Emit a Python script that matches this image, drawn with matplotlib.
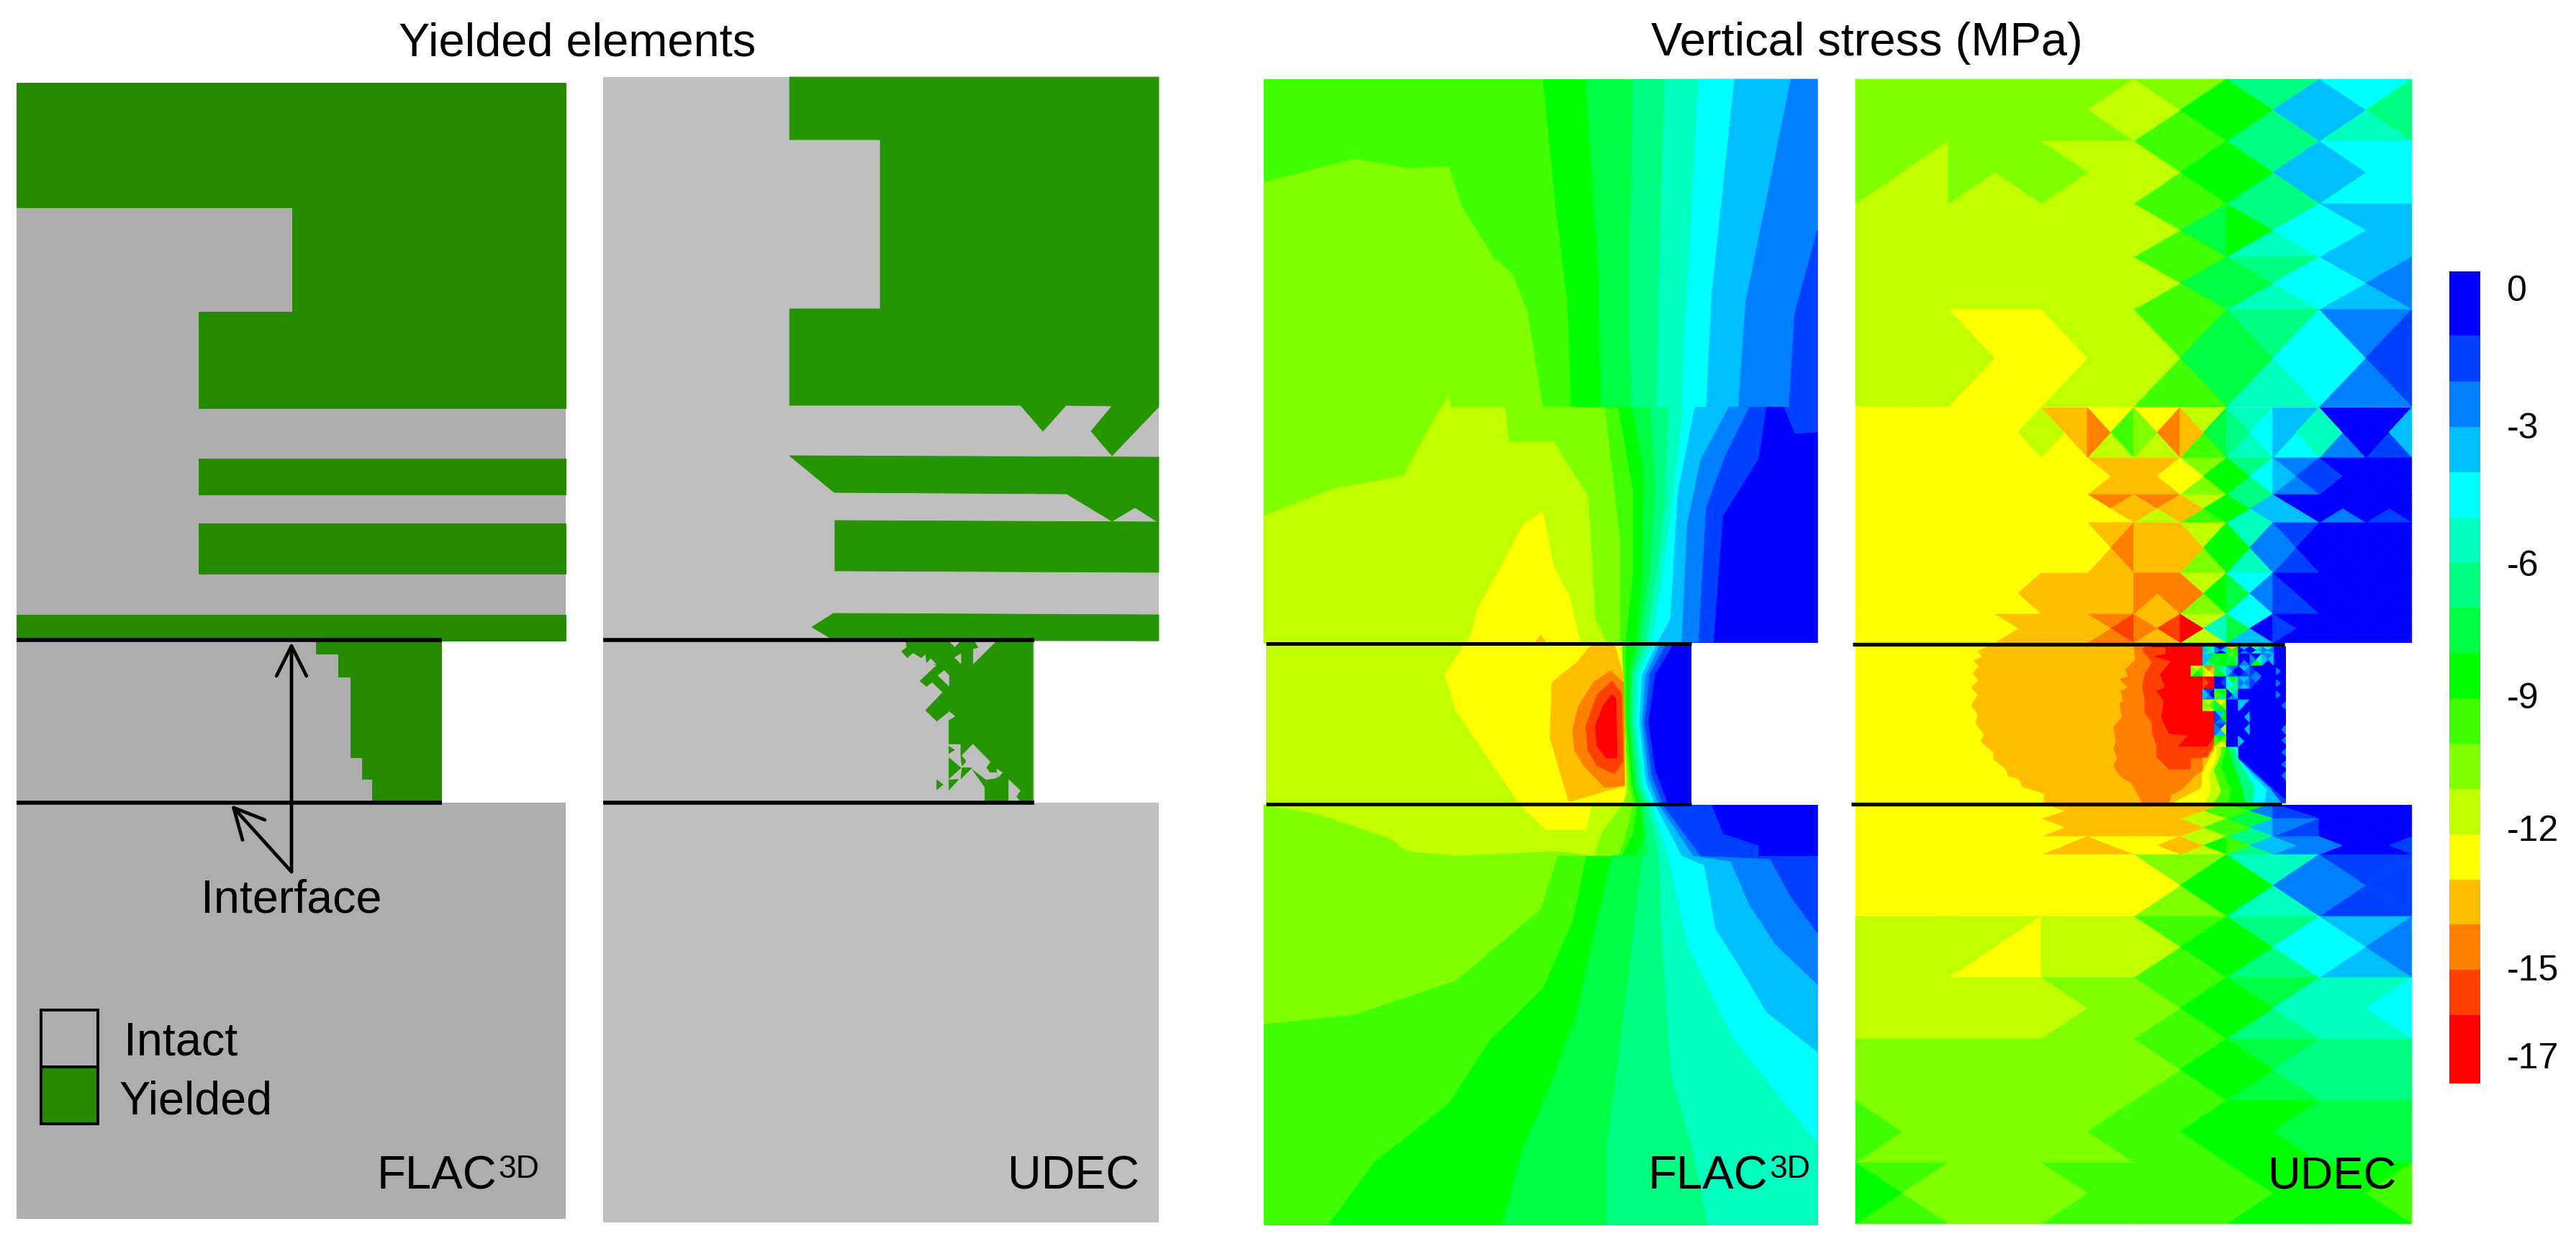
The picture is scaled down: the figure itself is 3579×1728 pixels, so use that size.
# yielded elements and vertical stress, FLAC3D against UDEC
import numpy as np
from matplotlib import pyplot as plt
from matplotlib.colors import ListedColormap
from matplotlib.patches import Rectangle

plt.rcParams['font.family'] = ['Liberation Sans', 'DejaVu Sans']

W, H = 3579, 1728

# stress levels, a = 0 MPa ... q = -17 MPa
LEVEL_NAMES = "abcdefghijklmnopq"
LEVEL_COLORS = ['#0000FF', '#0040FF', '#0080FF', '#00BFFF', '#00FFFF', '#00FFBF',
                '#00FF80', '#00FF40', '#00FF00', '#40FF00', '#80FF00', '#BFFF00',
                '#FFFF00', '#FFBF00', '#FF8000', '#FF4000', '#FF0000']
COLORBAR_EDGES = [377, 466, 530, 593, 656, 719, 782, 844, 907, 970, 1033, 1096,
                  1159, 1222, 1284, 1347, 1410, 1505]
COLORBAR_LABELS = ["0", "-3", "-6", "-9", "-12", "-15", "-17"]
COLORBAR_LABEL_Y = [405, 596, 787, 971, 1155, 1349, 1471]

GREY_A, GREEN_A = '#ADADAD', '#258A00'
GREY_B, GREEN_B = '#BFBFBF', '#269600'

# yielded regions, left panel
FLAC_YIELD = [
    [(23, 115), (786, 115), (786, 567), (276, 567), (276, 433), (406, 433), (406, 288), (23, 288)],
    [(276, 637), (786, 637), (786, 687), (276, 687)],
    [(276, 727), (786, 727), (786, 797), (276, 797)],
    [(23, 854), (786, 854), (786, 890), (23, 890)],
    [(439, 890), (614, 890), (614, 1115), (517, 1115), (517, 1082), (503, 1082), (503, 1052),
     (487, 1052), (487, 940), (470, 940), (470, 908), (439, 908)],
]

# yielded regions, second panel
UDEC_YIELD = [
    [(1097, 107), (1610, 107), (1610, 565), (1545, 633), (1516, 599), (1545, 564), (1481, 563),
     (1449, 599), (1418, 563), (1097, 563), (1097, 429), (1223, 429), (1223, 194), (1097, 194)],
    [(1097, 633), (1610, 635), (1610, 726), (1577, 705), (1545, 724), (1482, 686), (1159, 684)],
    [(1160, 723), (1610, 725), (1610, 795), (1160, 793)],
    [(1128, 871), (1158, 852), (1610, 854), (1610, 890), (1158, 889)],
]
# pillar part of the second panel, crop units (x0=1200, y0=860, 3x)
UDEC_PILLAR = [(175, 85), (180, 118), (158, 135), (182, 160), (205, 140), (240, 160), (258, 145),
               (262, 180), (305, 192), (235, 258), (262, 280), (285, 262), (330, 305), (258, 380),
               (305, 425), (355, 385), (355, 520), (405, 520), (405, 565), (410, 610), (450, 622),
               (505, 700), (505, 758), (705, 758), (705, 85)]
UDEC_PILLAR_HOLES = [
    [(455, 522), (527, 595), (510, 618), (525, 640), (553, 640), (553, 662), (510, 668), (453, 625),
     (412, 610), (428, 590), (410, 568)],
    [(555, 625), (578, 640), (558, 660)],
    [(605, 670), (652, 715), (635, 740), (650, 758), (605, 758)],
    [(465, 95), (548, 95), (457, 185), (457, 125), (480, 120)],
    [(360, 95), (398, 95), (380, 115)],
    [(380, 160), (405, 145), (405, 185)],
    [(262, 185), (300, 188), (280, 165)],
    [(310, 235), (335, 215), (355, 235), (355, 278)],
    [(355, 385), (380, 405), (355, 420)],
]
UDEC_PILLAR_BITS = [
    [(355, 530), (378, 545), (355, 560)],
    [(355, 578), (405, 620), (355, 665)],
    [(405, 570), (425, 595), (410, 610)],
    [(410, 620), (450, 620), (405, 665)],
    [(355, 670), (395, 668), (355, 712)],
    [(305, 670), (330, 690), (305, 710)],
]

# FLAC stress bands, crop units (x0=1730, 1.912 wide, 0.907 high), painted in this order
FLAC_STRESS = [
    ('i', [(50, 100), (1520, 100), (1520, 1543), (50, 1543)]),
    ('j', [(50, 100), (790, 100), (825, 265), (855, 380), (865, 513), (990, 513), (1030, 620),
           (1030, 720), (1010, 810), (1012, 910), (1026, 990), (1040, 1014), (1030, 1050), (1000, 1078),
           (905, 1078), (870, 1160), (790, 1245), (650, 1310), (540, 1390), (340, 1465), (220, 1543),
           (50, 1543)]),
    ('k', [(50, 230), (290, 200), (430, 212), (540, 210), (575, 260), (660, 325), (710, 345),
           (750, 395), (790, 513), (955, 513), (995, 680), (995, 810), (1008, 910), (1020, 990),
           (1030, 1014), (1005, 1060), (990, 1078), (830, 1078), (785, 1145), (560, 1235), (290, 1278),
           (50, 1290)]),
    ('l', [(50, 650), (240, 615), (420, 600), (500, 530), (540, 500), (545, 513), (690, 513),
           (700, 557), (820, 557), (910, 625), (930, 780), (960, 810), (1000, 810), (1005, 900),
           (1012, 990), (1000, 1014), (945, 1050), (925, 1078), (830, 1072), (560, 1078), (430, 1072),
           (380, 1055), (190, 1025), (50, 1014)]),
    ('m', [(530, 850), (600, 800), (615, 770), (740, 660), (790, 645), (820, 715), (860, 750),
           (890, 810), (1000, 810), (1005, 900), (1012, 1000), (1000, 1014), (920, 1014), (905, 1045),
           (800, 1045), (730, 1014), (560, 895)]),
    ('n', [(920, 812), (980, 812), (1005, 850), (1005, 990), (860, 1010), (810, 930), (815, 860),
           (880, 835)]),
    ('n', [(770, 810), (785, 800), (800, 810)]),
    ('o', [(870, 920), (885, 890), (925, 860), (970, 845), (1005, 860), (1008, 990), (955, 992),
           (900, 965), (875, 945)]),
    ('p', [(905, 915), (935, 875), (975, 858), (1000, 875), (1003, 960), (980, 975), (935, 965),
           (910, 945)]),
    ('q', [(930, 915), (950, 890), (975, 875), (985, 880), (988, 955), (960, 955), (935, 940)]),
    ('h', [(905, 100), (925, 250), (940, 350), (945, 513), (1028, 513), (1058, 590), (1055, 720),
           (1040, 810), (1020, 850), (1018, 910), (1034, 990), (1050, 1014), (1060, 1050), (1040, 1078),
           (975, 1078), (915, 1200), (880, 1280), (800, 1380), (735, 1450), (685, 1543), (1520, 1543),
           (1520, 100)]),
    ('g', [(1030, 100), (1020, 350), (1025, 513), (1078, 513), (1090, 620), (1075, 720), (1050, 810),
           (1028, 850), (1025, 910), (1042, 990), (1060, 1014), (1070, 1078), (1055, 1078), (1030, 1180),
           (990, 1340), (960, 1440), (960, 1543), (1520, 1543), (1520, 100)]),
    ('f', [(1115, 100), (1100, 350), (1095, 513), (1125, 513), (1115, 640), (1095, 720), (1065, 810),
           (1035, 850), (1032, 910), (1050, 990), (1070, 1014), (1100, 1078), (1105, 1150), (1120, 1280),
           (1135, 1360), (1190, 1450), (1230, 1543), (1520, 1543), (1520, 100)]),
    ('e', [(1205, 100), (1170, 400), (1160, 513), (1165, 513), (1130, 650), (1105, 740), (1080, 810),
           (1045, 850), (1040, 910), (1058, 990), (1080, 1014), (1125, 1078), (1175, 1190), (1300, 1310),
           (1520, 1440), (1520, 100)]),
    ('d', [(1300, 100), (1240, 370), (1225, 513), (1195, 513), (1150, 620), (1130, 780), (1095, 810),
           (1055, 850), (1048, 910), (1065, 985), (1090, 1014), (1160, 1078), (1220, 1090), (1250, 1170),
           (1310, 1215), (1385, 1275), (1520, 1325), (1520, 100)]),
    ('c', [(1450, 100), (1330, 380), (1310, 513), (1285, 513), (1210, 580), (1175, 660), (1160, 810),
           (1105, 810), (1065, 850), (1055, 910), (1072, 980), (1100, 1014), (1190, 1078), (1290, 1085),
           (1340, 1140), (1410, 1190), (1520, 1240), (1520, 100)]),
    ('b', [(1520, 290), (1460, 395), (1445, 513), (1340, 513), (1275, 575), (1225, 640), (1205, 810),
           (1120, 810), (1075, 850), (1062, 910), (1080, 975), (1110, 1014), (1210, 1078), (1395, 1082),
           (1450, 1130), (1520, 1175)]),
    ('a', [(1385, 513), (1365, 578), (1270, 650), (1245, 810), (1140, 810), (1090, 850), (1072, 910),
           (1090, 970), (1125, 1014), (1240, 1014), (1270, 1050), (1365, 1065), (1365, 1078), (1520, 1078),
           (1520, 545), (1460, 547), (1430, 513)]),
]

# UDEC mesh, each cell is four triangles: top, right, bottom, left
MESH_TOP_Y = [110, 196, 283, 357, 430, 565]
MESH_TOP = [
    ["kkkk", "kkkk", "klkk", "kijl", "gdgi", "egfd"],
    ["kllk", "kklk", "lllk", "jijl", "gdgi", "eeed"],
    ["llll", "llll", "llll", "jhjl", "gefi", "ddde"],
    ["llll", "llll", "llll", "jhjl", "gefh", "dcde"],
    ["llll", "mmml", "lllm", "jhjl", "gefh", "cbce"],
]
MESH_MID_Y = [566, 636, 687, 726, 796, 853, 893]
MESH_MID = [
    ["mmmm", "mmmm", "mmmm", "mlmm", "nnml", "mjlo", "molk", "lhjn", "fefg", "dfed", "aacf", "adba"],
    ["mmmm", "mmmm", "mmmm", "mmmm", "mmmm", "nnnm", "nmnn", "kikm", "gegi", "cbcd", "aaab", "aaaa"],
    ["mmmm", "mmmm", "mmmm", "mmmm", "mmmm", "onmm", "onln", "lijn", "gdfi", "aadd", "aaca", "aaba"],
    ["mmmm", "mmmm", "mmmm", "mmmm", "mmmm", "nonm", "nnnn", "likn", "fcfi", "babc", "aaaa", "aaaa"],
    ["mmmm", "mmmm", "mmmm", "mnmm", "nnnn", "nnnn", "oono", "liko", "eceh", "aabb", "aaaa", "aaaa"],
    ["mmmm", "mmmm", "mmmm", "nnnm", "nnnn", "opon", "npno", "lflq", "eadh", "aaab", "aaaa", "aaaa"],
]
MESH_FINE_Y = [1116, 1137, 1162, 1187]
MESH_FINE = [
    ["mmmm", "mmmm", "mmmm", "mmmm", "nnnm", "nnnn", "nnnn", "njln", "ichj", "aabb", "aaaa", "aaaa"],
    ["mmmm", "mmmm", "mmmm", "mmmm", "nnnm", "nnnn", "nnnn", "ljln", "hdgj", "cbbc", "aaaa", "aaaa"],
    ["mmmm", "mmmm", "mmmm", "mmmm", "mnnm", "mmnn", "mnmm", "liln", "gdgj", "cccd", "aaac", "abaa"],
]
MESH_LOW_Y = [1187, 1273, 1358, 1443, 1529, 1615, 1700]
MESH_LOW = [
    ["mmmm", "mmmm", "mmmm", "kikm", "fcfi", "bbbc"],
    ["llll", "lmml", "llll", "jijl", "gegi", "dcde"],
    ["llll", "llll", "kkkl", "jijk", "hfgi", "feff"],
    ["kkkk", "kkkk", "kkkk", "jijk", "hghi", "gggg"],
    ["kkkj", "kkkk", "kjkk", "jijj", "ihii", "hhhh"],
    ["jkji", "kkkk", "jjjk", "jjjj", "iiij", "ijii"],
]
# broken up elements next to the opening
MESH_SEAM_Y = [898, 908, 925, 940, 957, 972, 988, 1005, 1022, 1037]
MESH_SEAM = [
    ["----", "gfgd", "adac", "nijh", "daca", "fdga", "fcdc"],
    ["----", "digd", "iiih", "jgih", "aaca", "afic", "cdad"],
    ["ljik", "onml", "gfih", "cabd", "dcba", "aacb", "aaaa"],
    ["qqqq", "qqqp", "abaa", "hgfe", "dcdc", "caab", "aaaa"],
    ["----", "bacd", "ihgj", "gdca", "aaaa", "aaaa", "aaaa"],
    ["----", "ljlk", "mkih", "aaaa", "daad", "aaaa", "aaaa"],
    ["----", "qqqq", "dicb", "aaaa", "adaa", "aaaa", "aaaa"],
    ["----", "----", "bldc", "aaaa", "adaa", "aaaa", "aaaa"],
    ["----", "----", "ikmj", "aaaa", "aaad", "aaaa", "aaaa"],
]

# seam layer bands, x and y in reference pixels
SEAM_HALO = [(2760, 899), (2748, 905), (2755, 912), (2742, 918), (2750, 925), (2741, 935), (2749, 945),
             (2739, 955), (2748, 965), (2739, 980), (2748, 992), (2745, 1005), (2757, 1020), (2752, 1030),
             (2770, 1045), (2770, 1055), (2787, 1068), (2790, 1078), (2805, 1082), (2810, 1093), (2840, 1102),
             (2840, 1116), (3017, 1116), (3060, 1093), (3077, 1040), (3077, 895), (2760, 895)]
# the rest in crop units (x0=2800, y0=840, 3x)
SEAM_BANDS = [
    ('o', [(495, 175), (500, 230), (460, 270), (470, 300), (435, 310), (470, 345), (440, 360), (450, 400),
           (435, 410), (445, 470), (410, 510), (420, 570), (410, 600), (425, 640), (410, 670), (425, 700),
           (445, 720), (480, 740), (500, 770), (515, 800), (530, 825), (640, 825), (650, 790), (695, 770),
           (750, 710), (780, 690), (780, 640), (830, 600), (830, 175)]),
    ('p', [(540, 175), (530, 190), (570, 240), (540, 290), (530, 340), (540, 400), (540, 450), (570, 490),
           (570, 530), (590, 590), (590, 635), (640, 685), (730, 685), (730, 640), (800, 635), (830, 570),
           (830, 175)]),
    ('q', [(570, 175), (625, 175), (630, 205), (580, 215), (650, 235), (605, 290), (625, 345), (590, 360),
           (620, 400), (610, 470), (640, 535), (720, 545), (680, 590), (800, 590), (830, 545), (830, 445),
           (780, 445), (780, 175)]),
    ('m', [(830, 600), (780, 700), (775, 800), (745, 825), (1128, 825), (1128, 590), (830, 590)]),
    ('l', [(840, 640), (810, 700), (815, 780), (790, 825), (1128, 825), (1128, 590), (840, 590)]),
    ('j', [(860, 620), (830, 690), (860, 780), (830, 825), (1128, 825), (1128, 590), (860, 590)]),
    ('i', [(880, 600), (860, 680), (900, 770), (890, 825), (1128, 825), (1128, 590), (880, 590)]),
    ('g', [(890, 600), (910, 660), (950, 770), (960, 825), (1128, 825), (1128, 590), (890, 590)]),
    ('e', [(910, 590), (950, 680), (1000, 760), (990, 825), (1128, 825), (1128, 590)]),
    ('d', [(930, 640), (1000, 720), (1050, 770), (1040, 825), (1128, 825), (1128, 640)]),
    ('b', [(930, 640), (1060, 760), (1110, 825), (1128, 825), (1128, 640)]),
    ('a', [(880, 175), (1128, 175), (1128, 810), (1115, 800), (930, 635), (930, 590), (880, 590)]),
    ('d', [(930, 405), (955, 420), (930, 440)]),
    ('d', [(930, 455), (950, 470), (930, 490)]),
    ('d', [(930, 500), (950, 518), (930, 535)]),
    ('d', [(930, 545), (950, 565), (930, 585)]),
    ('c', [(1088, 262), (1105, 277), (1088, 292)]),
    ('c', [(1088, 312), (1105, 327), (1088, 342)]),
    ('c', [(1088, 360), (1105, 375), (1088, 390)]),
    ('c', [(1128, 405), (1110, 420), (1128, 435)]),
    ('c', [(1128, 500), (1110, 520), (1128, 540)]),
    ('c', [(1128, 550), (1110, 565), (1128, 580)]),
    ('c', [(1128, 600), (1110, 615), (1128, 630)]),
    ('c', [(1128, 650), (1110, 665), (1128, 680)]),
    ('c', [(1128, 695), (1110, 712), (1128, 730)]),
]


def level_of(ch):
    return LEVEL_NAMES.index(ch)


def fill_poly(ax, pts, color, zorder=2):
    pts = np.array(pts, dtype=float)
    ax.fill(pts[:, 0], pts[:, 1], color=color, lw=0.6, zorder=zorder)


def crop_to_px(pts, x0, y0, sx, sy):
    pts = np.array(pts, dtype=float)
    return np.column_stack([x0 + pts[:, 0] / sx, y0 + pts[:, 1] / sy])


def draw_mesh(ax, rows, y_edges, x_start, dx, zorder):
    # four triangles per cell, colored flat by level
    xs, ys, tris, vals = [], [], [], []
    for r, row in enumerate(rows):
        y0, y1 = y_edges[r], y_edges[r + 1]
        for c, cell in enumerate(row):
            if cell[0] == '-':
                continue
            x0 = x_start + c * dx
            x1 = x0 + dx
            n = len(xs)
            xs += [x0, x1, x1, x0, (x0 + x1) / 2]
            ys += [y0, y0, y1, y1, (y0 + y1) / 2]
            tris += [[n, n + 1, n + 4], [n + 1, n + 2, n + 4], [n + 2, n + 3, n + 4], [n + 3, n, n + 4]]
            vals += [level_of(ch) for ch in cell]
    ax.tripcolor(np.array(xs), np.array(ys), np.array(tris), facecolors=np.array(vals, dtype=float),
                 cmap=LEVEL_CMAP, vmin=-0.5, vmax=16.5, edgecolors='face', linewidth=0.5, zorder=zorder)


def flac_label(ax, x, x_sup):
    ax.text(x, 1652, "FLAC", fontsize=47, ha='left', va='baseline', zorder=10)
    ax.text(x_sup, 1636, "3D", fontsize=32, ha='left', va='baseline', zorder=10)


LEVEL_CMAP = ListedColormap(LEVEL_COLORS)

fig = plt.figure(figsize=(W / 100, H / 100), dpi=100)
ax = fig.add_axes([0, 0, 1, 1])

# yielded elements, FLAC3D
ax.add_patch(Rectangle((23, 115), 763, 1578, color=GREY_A, lw=0, zorder=1))
for poly in FLAC_YIELD:
    fill_poly(ax, poly, GREEN_A)
ax.add_patch(Rectangle((614, 891), 176, 224, color='white', lw=0, zorder=3))
for y in [889, 1115]:
    ax.plot([23, 614], [y, y], color='black', lw=4.0, solid_capstyle='butt', zorder=5)
for tip in [(405, 892), (321, 1118)]:
    ax.annotate("", xy=tip, xytext=(405, 1211),
                arrowprops=dict(arrowstyle='->,head_length=0.4,head_width=0.2', mutation_scale=75,
                                lw=3.4, color='black', shrinkA=0, shrinkB=0), zorder=6)
ax.text(405, 1267, "Interface", fontsize=46.5, ha='center', va='baseline', zorder=10)
ax.add_patch(Rectangle((57, 1403), 79, 79, fc=GREY_A, ec='black', lw=2.8, zorder=6))
ax.add_patch(Rectangle((57, 1482), 79, 79, fc=GREEN_A, ec='black', lw=2.8, zorder=6))
ax.text(172, 1466, "Intact", fontsize=46.5, ha='left', va='baseline', zorder=10)
ax.text(166, 1548, "Yielded", fontsize=46.5, ha='left', va='baseline', zorder=10)
flac_label(ax, 524, 692)

# yielded elements, UDEC
ax.add_patch(Rectangle((838, 107), 772, 1591, color=GREY_B, lw=0, zorder=1))
for poly in UDEC_YIELD:
    fill_poly(ax, poly, GREEN_B)
fill_poly(ax, crop_to_px(UDEC_PILLAR, 1200, 860, 3, 3), GREEN_B)
for poly in UDEC_PILLAR_HOLES:
    fill_poly(ax, crop_to_px(poly, 1200, 860, 3, 3), GREY_B, zorder=3)
for poly in UDEC_PILLAR_BITS:
    fill_poly(ax, crop_to_px(poly, 1200, 860, 3, 3), GREEN_B, zorder=4)
ax.add_patch(Rectangle((1437, 891), 177, 224, color='white', lw=0, zorder=4))
for y in [889, 1115]:
    ax.plot([838, 1437], [y, y], color='black', lw=4.0, solid_capstyle='butt', zorder=5)
ax.text(1400, 1652, "UDEC", fontsize=46.5, ha='left', va='baseline', zorder=10)

# vertical stress, FLAC3D
for name, poly in FLAC_STRESS:
    fill_poly(ax, crop_to_px(poly, 1730, 0, 1.912, 0.907), LEVEL_COLORS[level_of(name)])
ax.add_patch(Rectangle((2350, 893), 180, 225, color='white', lw=0, zorder=3))
ax.add_patch(Rectangle((1752, 894), 7, 223, color='white', lw=0, zorder=3))
for y in [894, 1117]:
    ax.plot([1759, 2350], [y, y], color='black', lw=3.6, solid_capstyle='butt', zorder=5)
flac_label(ax, 2290, 2458)

# vertical stress, UDEC
draw_mesh(ax, MESH_TOP, MESH_TOP_Y, 2578, 128.8, 2)
draw_mesh(ax, MESH_MID, MESH_MID_Y, 2578, 64.4, 2)
draw_mesh(ax, MESH_FINE, MESH_FINE_Y, 2578, 64.4, 2)
draw_mesh(ax, MESH_LOW, MESH_LOW_Y, 2578, 128.8, 2)
ax.add_patch(Rectangle((2578, 893), 598, 225, color=LEVEL_COLORS[level_of('m')], lw=0, zorder=3))
fill_poly(ax, SEAM_HALO, LEVEL_COLORS[level_of('n')], zorder=3)
for name, poly in SEAM_BANDS:
    fill_poly(ax, crop_to_px(poly, 2800, 840, 3, 3), LEVEL_COLORS[level_of(name)], zorder=3)
draw_mesh(ax, MESH_SEAM, MESH_SEAM_Y, 3044, 16.4, 4)
ax.add_patch(Rectangle((3176, 893), 180, 225, color='white', lw=0, zorder=4))
ax.plot([2574, 3174], [895, 895], color='black', lw=3.8, solid_capstyle='butt', zorder=5)
ax.plot([2572, 3170], [1117, 1117], color='black', lw=3.8, solid_capstyle='butt', zorder=5)
ax.text(3150, 1652, "UDEC", fontsize=45.5, ha='left', va='baseline', zorder=10)

# colorbar
ax.pcolormesh([3403, 3446], COLORBAR_EDGES, np.arange(17).reshape(-1, 1), cmap=LEVEL_CMAP,
              vmin=-0.5, vmax=16.5, zorder=2)
for label, y in zip(COLORBAR_LABELS, COLORBAR_LABEL_Y):
    ax.text(3483, y, label, fontsize=36, ha='left', va='center', zorder=10)

# headings
ax.text(802, 77, "Yielded elements", fontsize=46.8, ha='center', va='baseline')
ax.text(2294, 77, "Vertical stress (MPa)", fontsize=46.8, ha='left', va='baseline')

ax.set_xlim(0, W)
ax.set_ylim(H, 0)
ax.axis('off')
fig.savefig("out.png", dpi=100, facecolor='white')
